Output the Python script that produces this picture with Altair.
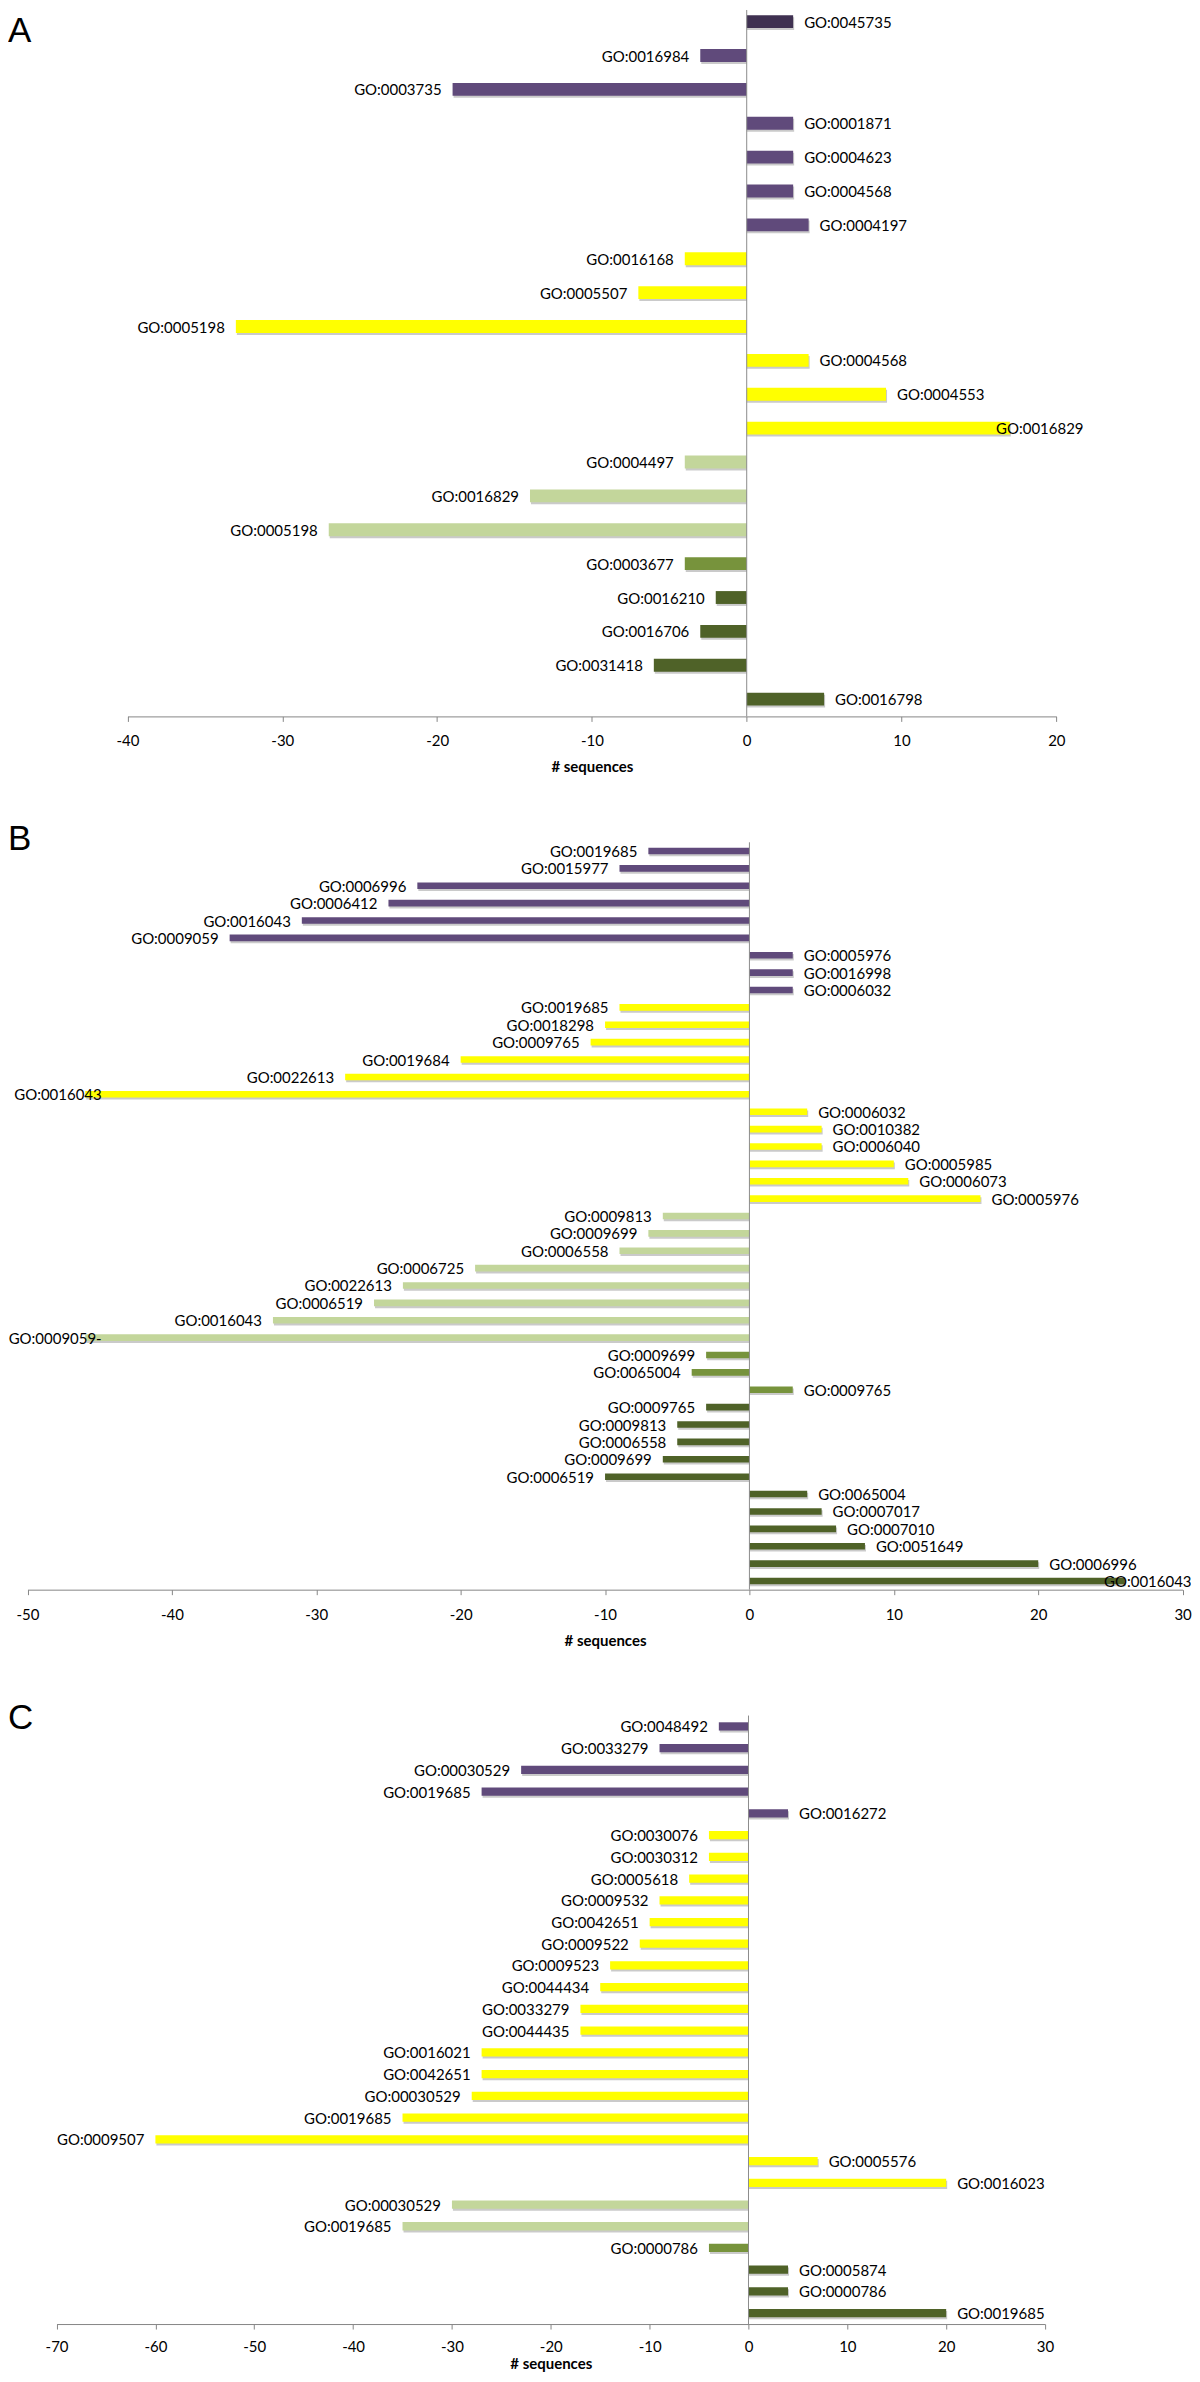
import altair as alt
import pandas as pd

# ---------------- data ----------------
GROUPS = ["deep", "purple", "yellow", "pale", "olive", "dark"]
COLORS = ["#3F3151", "#604A7B", "#FFFF00", "#C3D69B", "#77933C", "#4F6228"]

a_labels = ["GO:0045735", "GO:0016984", "GO:0003735", "GO:0001871", "GO:0004623", "GO:0004568", "GO:0004197",
            "GO:0016168", "GO:0005507", "GO:0005198", "GO:0004568", "GO:0004553", "GO:0016829",
            "GO:0004497", "GO:0016829", "GO:0005198",
            "GO:0003677",
            "GO:0016210", "GO:0016706", "GO:0031418", "GO:0016798"]
a_values = [3, -3, -19, 3, 3, 3, 4,
            -4, -7, -33, 4, 9, 17,
            -4, -14, -27,
            -4,
            -2, -3, -6, 5]
a_groups = ["deep"] + ["purple"] * 6 + ["yellow"] * 6 + ["pale"] * 3 + ["olive"] + ["dark"] * 4

b_labels = ["GO:0019685", "GO:0015977", "GO:0006996", "GO:0006412", "GO:0016043", "GO:0009059",
            "GO:0005976", "GO:0016998", "GO:0006032",
            "GO:0019685", "GO:0018298", "GO:0009765", "GO:0019684", "GO:0022613", "GO:0016043",
            "GO:0006032", "GO:0010382", "GO:0006040", "GO:0005985", "GO:0006073", "GO:0005976",
            "GO:0009813", "GO:0009699", "GO:0006558", "GO:0006725", "GO:0022613", "GO:0006519",
            "GO:0016043", "GO:0009059-",
            "GO:0009699", "GO:0065004", "GO:0009765",
            "GO:0009765", "GO:0009813", "GO:0006558", "GO:0009699", "GO:0006519",
            "GO:0065004", "GO:0007017", "GO:0007010", "GO:0051649", "GO:0006996", "GO:0016043"]
b_values = [-7, -9, -23, -25, -31, -36, 3, 3, 3,
            -9, -10, -11, -20, -28, -46, 4, 5, 5, 10, 11, 16,
            -6, -7, -9, -19, -24, -26, -33, -46,
            -3, -4, 3,
            -3, -5, -5, -6, -10, 4, 5, 6, 8, 20, 26]
b_groups = ["purple"] * 9 + ["yellow"] * 12 + ["pale"] * 8 + ["olive"] * 3 + ["dark"] * 11

c_labels = ["GO:0048492", "GO:0033279", "GO:00030529", "GO:0019685", "GO:0016272",
            "GO:0030076", "GO:0030312", "GO:0005618", "GO:0009532", "GO:0042651", "GO:0009522",
            "GO:0009523", "GO:0044434", "GO:0033279", "GO:0044435", "GO:0016021", "GO:0042651",
            "GO:00030529", "GO:0019685", "GO:0009507", "GO:0005576", "GO:0016023",
            "GO:00030529", "GO:0019685",
            "GO:0000786",
            "GO:0005874", "GO:0000786", "GO:0019685"]
c_values = [-3, -9, -23, -27, 4,
            -4, -4, -6, -9, -10, -11, -14, -15, -17, -17, -27, -27, -28, -35, -60, 7, 20,
            -30, -35,
            -4,
            4, 4, 20]
c_groups = ["purple"] * 5 + ["yellow"] * 17 + ["pale"] * 2 + ["olive"] + ["dark"] * 3

a_ticks = [-40, -30, -20, -10, 0, 10, 20]
b_ticks = [-50, -40, -30, -20, -10, 0, 10, 20, 30]
c_ticks = [-70, -60, -50, -40, -30, -20, -10, 0, 10, 20, 30]

FONT = "Lato"
W = 1184


def panel(letter, labels, values, groups, ticks, x_range, height, yscale, clamp, letter_y,
          label_pad, title_pad):
    df = pd.DataFrame({"idx": list(range(len(labels))), "label": labels,
                       "value": values, "group": groups})
    xs = alt.Scale(domain=[ticks[0], ticks[-1]], range=x_range, nice=False, zero=False)
    xaxis = alt.Axis(values=ticks, title="# sequences", grid=False,
                     domainColor="#868686", domainWidth=1, tickColor="#868686", tickSize=5,
                     labelFont=FONT, labelFontSize=15, labelColor="black", labelPadding=label_pad,
                     labelFlush=False, labelExpr="'' + datum.value",
                     titleFont=FONT, titleFontSize=15, titleFontWeight="bold",
                     titleColor="black", titlePadding=title_pad)
    y = alt.Y("idx:O", axis=None, scale=alt.Scale(**yscale))
    base = alt.Chart(df)
    shadow = base.mark_bar(color="#8a8a8a", opacity=0.45, xOffset=1, yOffset=2).encode(
        x=alt.X("value:Q", scale=xs, axis=xaxis), x2=alt.datum(0), y=y)
    bars = base.mark_bar().encode(
        x=alt.X("value:Q", scale=xs, axis=xaxis), x2=alt.datum(0), y=y,
        color=alt.Color("group:N", scale=alt.Scale(domain=GROUPS, range=COLORS), legend=None))
    rule = alt.Chart(pd.DataFrame({"zero": [0]})).mark_rule(color="#8c8c8c", strokeWidth=1).encode(
        x=alt.X("zero:Q", scale=xs, axis=xaxis))
    lab = base.transform_calculate(lx=f"clamp(datum.value, {clamp[0]}, {clamp[1]})")
    pos = lab.transform_filter("datum.value > 0").mark_text(
        align="left", baseline="middle", dx=11, dy=1, font=FONT, fontSize=15, color="black", clip=True
    ).encode(x=alt.X("lx:Q", scale=xs, axis=xaxis), y=y, text="label:N")
    neg = lab.transform_filter("datum.value < 0").mark_text(
        align="right", baseline="middle", dx=-11, dy=1, font=FONT, fontSize=15, color="black", clip=True
    ).encode(x=alt.X("lx:Q", scale=xs, axis=xaxis), y=y, text="label:N")
    let = alt.Chart(pd.DataFrame({"t": [letter]})).mark_text(
        align="left", baseline="top", font="Liberation Sans", fontSize=35, color="black"
    ).encode(x=alt.value(0), y=alt.value(letter_y), text="t:N")
    return alt.layer(shadow, bars, rule, pos, neg, let).properties(width=W, height=height)


pa = panel("A", a_labels, a_values, a_groups, a_ticks, [119.6, 1049.2], 707,
           dict(paddingInner=0.62, paddingOuter=0.237, align=0.326),
           (-100, 15.4), 4, 12.5, 11)
pb = panel("B", b_labels, b_values, b_groups, b_ticks, [19.5, 1175.6], 748,
           dict(paddingInner=0.62, paddingOuter=0.31),
           (-44.1, 23.8), -20, 12.5, 11)
pc = panel("C", c_labels, c_values, c_groups, c_ticks, [48.6, 1037.9], 609,
           dict(paddingInner=0.62, paddingOuter=0.31),
           (-100, 100), -15, 10, 2)

chart = alt.vconcat(pa, pb, pc, spacing=126, bounds="flush").resolve_scale(
    x="independent", y="independent", color="shared"
).properties(
    padding=0, background="white"
).configure_view(stroke=None)

chart.save("out.html", embed_options={"renderer": "svg", "actions": False})
